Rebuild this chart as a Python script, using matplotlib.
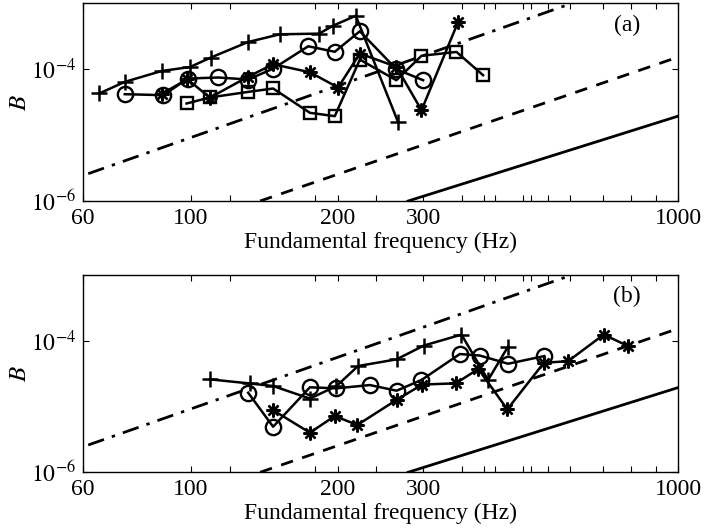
#!/usr/bin/env python3
"""
Inharmonicity coefficient B vs fundamental frequency, two panels (a) and (b)
"""

import numpy as np
import matplotlib.pyplot as plt

plt.rcParams['font.family'] = 'Liberation Serif'
plt.rcParams['mathtext.fontset'] = 'stix'
plt.rcParams['font.size'] = 17
plt.rcParams['axes.linewidth'] = 1.0

# ---- panel (a) data ----
a_plus_f = [64.8, 73.1, 87.0, 99.5, 109.7, 131.0, 152.2, 183.2, 195.8, 217.9, 266.2]
a_plus_B = [4.29e-5, 6.43e-5, 9.4e-5, 1.08e-4, 1.50e-4, 2.59e-4, 3.39e-4, 3.47e-4, 4.59e-4, 6.47e-4, 1.57e-5]

a_circ_f = [73.1, 87.7, 98.6, 113.7, 131.0, 147.4, 174.0, 197.3, 222.1, 264.0, 299.6]
a_circ_B = [4.18e-5, 4.04e-5, 7.23e-5, 7.49e-5, 6.98e-5, 1.02e-4, 2.23e-4, 1.84e-4, 3.77e-4, 1.0e-4, 6.81e-5]

a_star_f = [87.1, 98.3, 109.3, 131.0, 147.4, 175.4, 200.4, 222.1, 264.0, 297.3, 353.5]
a_star_B = [4.25e-5, 7.05e-5, 3.70e-5, 7.70e-5, 1.19e-4, 9.0e-5, 5.28e-5, 1.73e-4, 1.09e-4, 2.39e-5, 5.21e-4]

a_sq_f = [97.9, 109.3, 131.0, 147.4, 175.4, 197.3, 222.1, 264.0, 297.3, 350.8, 397.8]
a_sq_B = [3.02e-5, 3.73e-5, 4.53e-5, 5.1e-5, 2.18e-5, 1.94e-5, 1.40e-4, 6.81e-5, 1.60e-4, 1.83e-4, 8.11e-5]

# ---- panel (b) data ----
b_plus_f = [109.3, 132.1, 147.4, 175.4, 198.9, 220.3, 264.2, 300.6, 359.2, 407.3, 447.7]
b_plus_B = [2.59e-5, 2.24e-5, 2.05e-5, 1.32e-5, 2.05e-5, 4.13e-5, 5.21e-5, 8.45e-5, 1.24e-4, 2.53e-5, 8.16e-5]

b_circ_f = [131.0, 147.4, 175.4, 198.9, 232.9, 264.2, 297.3, 356.3, 391.6, 447.7, 531.3]
b_circ_B = [1.62e-5, 4.93e-6, 1.96e-5, 1.89e-5, 2.12e-5, 1.74e-5, 2.53e-5, 6.28e-5, 5.96e-5, 4.47e-5, 5.85e-5]

b_star_f = [147.2, 175.4, 197.3, 219.5, 264.2, 298.4, 349.7, 388.9, 446.1, 530.3, 594.4, 703.8, 789.6]
b_star_B = [8.85e-6, 4.0e-6, 7.17e-6, 5.24e-6, 1.26e-5, 2.16e-5, 2.25e-5, 3.72e-5, 9.07e-6, 4.63e-5, 4.88e-5, 1.24e-4, 8.3e-5]

# ---- reference lines (same in both panels) ----
dashdot_f = [61.5, 1000]
dashdot_B = [2.6e-6, 3.7e-3]
dashed_f = [138.6, 1000]
dashed_B = [1.0e-6, 1.53e-4]
solid_f = [279, 1000]
solid_B = [1.0e-6, 1.94e-5]

xticks = [60, 100, 200, 300, 1000]
xminor = [120, 180, 240, 360, 400, 420, 480, 500, 540, 600, 700, 800, 900]
yticks = [1e-6, 1e-4]
ytick_labels = [r'$10^{-6}$', r'$10^{-4}$']

ASTER = (8, 2, 0)


def draw_refs(ax):
    ax.plot(dashdot_f, dashdot_B, color='black', lw=2.0, dashes=(6, 3, 1.2, 3))
    ax.plot(dashed_f, dashed_B, color='black', lw=2.0, dashes=(4.5, 3.5))
    ax.plot(solid_f, solid_B, color='black', lw=2.0)


def series(ax, f, B, marker, ms, mew=1.7):
    ax.plot(f, B, color='black', lw=1.8, marker=marker, ms=ms,
            mfc='none', mec='black', mew=mew)


def style_axis(ax, label):
    ax.set_xscale('log')
    ax.set_yscale('log')
    ax.set_xlim(60, 1000)
    ax.set_ylim(1e-6, 1e-3)
    ax.set_xticks(xticks)
    ax.set_xticklabels([str(t) for t in xticks])
    ax.set_xticks(xminor, minor=True)
    ax.xaxis.set_minor_formatter(plt.NullFormatter())
    ax.set_yticks(yticks)
    ax.set_yticklabels(ytick_labels)
    ax.yaxis.set_minor_locator(plt.NullLocator())
    ax.tick_params(which='both', direction='in', top=True, right=True,
                   length=4, width=0.8, labelsize=17, pad=5)
    ax.set_xlabel('Fundamental frequency (Hz)', fontsize=17, labelpad=2)
    ax.set_ylabel('$B$', fontsize=18, labelpad=0)
    ax.text(0.914, 0.89, label, transform=ax.transAxes, fontsize=17,
            ha='center', va='center')


fig = plt.figure(figsize=(7.06, 5.29), dpi=100)
ax1 = fig.add_axes([0.1176, 0.620, 0.8428, 0.3737])
ax2 = fig.add_axes([0.1176, 0.1072, 0.8428, 0.373])

for ax in (ax1, ax2):
    draw_refs(ax)

series(ax1, a_plus_f, a_plus_B, '+', 12, 1.8)
series(ax1, a_circ_f, a_circ_B, 'o', 11)
series(ax1, a_star_f, a_star_B, ASTER, 10)
series(ax1, a_sq_f, a_sq_B, 's', 8.5)

series(ax2, b_plus_f, b_plus_B, '+', 12, 1.8)
series(ax2, b_circ_f, b_circ_B, 'o', 11)
series(ax2, b_star_f, b_star_B, ASTER, 10)

style_axis(ax1, '(a)')
style_axis(ax2, '(b)')

fig.savefig('out.png', dpi=100)
